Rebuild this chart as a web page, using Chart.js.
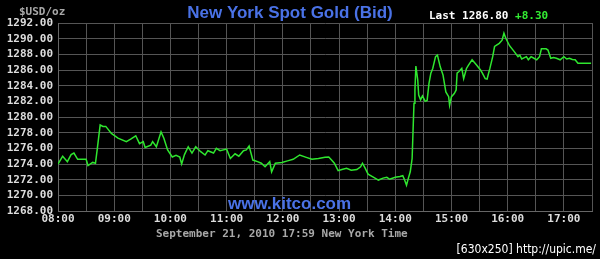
<!DOCTYPE html>
<html>
<head>
    <title>New York Spot Gold</title>
    <script src="https://cdn.jsdelivr.net/npm/chart.js"></script>
    <style>
        html, body { margin: 0; padding: 0; background: #000; }
        #box { width: 600px; height: 259px; position: relative; }
    </style>
</head>
<body>
    <div id="box">
        <canvas id="goldChart"></canvas>
    </div>
    <script>
        // minutes after 08:00 New York time
        const minutes = [0,5,10,14,17,21,30,32,37,40,42,45,48,51,57,64,73,78,83,87,91,93,99,101,105,110,113,117,122,126,130,132,135,139,143,147,152,157,160,166,169,173,180,184,189,193,198,201,204,208,213,217,221,226,228,232,239,245,251,258,265,271,278,285,289,292,295,299,303,308,313,319,323,325,328,331,337,342,347,351,354,360,365,368,370,372,374,376,378,379,380,381,382,384,385,387,389,392,394,396,398,400,403,405,408,411,414,417,418,420,423,425,426,428,431,433,436,438,442,447,451,453,456,458,461,464,466,471,474,476,478,482,487,491,493,495,500,502,505,508,511,514,516,521,523,526,529,532,536,540,543,546,549,552,555,569];
        // bid price, $USD/oz
        const prices = [1274.0,1275.0,1274.3,1275.2,1275.4,1274.6,1274.6,1273.8,1274.2,1274.1,1276.0,1279.0,1278.8,1278.8,1277.9,1277.3,1276.85,1277.2,1277.6,1276.6,1276.85,1276.1,1276.4,1276.85,1276.2,1278.1,1277.3,1275.8,1274.9,1275.1,1274.9,1274.0,1275.2,1276.2,1275.4,1276.2,1275.6,1275.15,1275.7,1275.4,1276.0,1275.7,1275.9,1274.7,1275.3,1275.0,1275.7,1275.8,1276.3,1274.5,1274.3,1274.1,1273.65,1274.3,1273.0,1274.1,1274.2,1274.4,1274.6,1275.15,1274.85,1274.6,1274.7,1274.85,1274.9,1274.5,1274.1,1273.15,1273.3,1273.45,1273.2,1273.3,1273.65,1274.1,1273.45,1272.7,1272.3,1271.95,1272.2,1272.3,1272.05,1272.3,1272.4,1272.5,1271.95,1271.3,1272.2,1273.0,1274.7,1278.3,1281.75,1283.45,1286.5,1284.7,1282.8,1282.2,1282.7,1282.0,1282.1,1284.3,1285.6,1286.2,1287.7,1287.9,1286.4,1285.35,1283.2,1282.6,1281.5,1282.6,1283.0,1283.45,1285.6,1285.8,1286.2,1284.9,1286.2,1286.6,1287.3,1286.6,1286.0,1285.6,1284.9,1284.85,1286.2,1287.7,1289.0,1289.4,1289.8,1290.7,1290.05,1289.1,1288.35,1287.7,1287.9,1287.4,1287.7,1287.3,1287.7,1287.5,1287.3,1287.7,1288.7,1288.7,1288.55,1287.5,1287.6,1287.5,1287.3,1287.7,1287.4,1287.5,1287.35,1287.3,1286.85,1286.85];
        const hourLabels = ['08:00','09:00','10:00','11:00','12:00','13:00','14:00','15:00','16:00','17:00'];
        const priceMin = 1268, priceMax = 1292, priceStep = 2;
        const lastPrice = '1286.80', change = '+8.30';

        const monoFont = 'bold 11px "DejaVu Sans Mono", monospace';

        // title, header and footer texts
        const textPlugin = {
            id: 'kitcoTexts',
            afterDraw(chart) {
                const ctx = chart.ctx;
                ctx.save();
                ctx.textBaseline = 'alphabetic';

                ctx.font = 'bold 11px "DejaVu Sans Mono", monospace';
                ctx.fillStyle = '#a8a8a8';
                ctx.textAlign = 'left';
                ctx.fillText('$USD/oz', 19, 15);

                ctx.font = 'bold 17px "Liberation Sans", Arial, sans-serif';
                ctx.fillStyle = '#4a72e6';
                ctx.textAlign = 'center';
                ctx.fillText('New York Spot Gold (Bid)', 290, 18);

                ctx.font = monoFont;
                ctx.textAlign = 'left';
                ctx.fillStyle = '#ffffff';
                const lastText = 'Last ' + lastPrice + ' ';
                ctx.fillText(lastText, 429, 19);
                ctx.fillStyle = '#33ee33';
                ctx.fillText(change, 429 + ctx.measureText(lastText).width, 19);

                ctx.font = 'bold 17px "Liberation Sans", Arial, sans-serif';
                ctx.fillStyle = '#4a72e6';
                ctx.textAlign = 'left';
                ctx.fillText('www.kitco.com', 228, 209);

                ctx.font = monoFont;
                ctx.fillStyle = '#a8a8a8';
                ctx.fillText('September 21, 2010 17:59 New York Time', 156, 237);

                ctx.font = '12px "DejaVu Sans Condensed", sans-serif';
                ctx.fillStyle = '#ffffff';
                ctx.textAlign = 'right';
                ctx.fillText('[630x250] http://upic.me/', 596, 253);
                ctx.restore();
            }
        };

        const ctx = document.getElementById('goldChart').getContext('2d');
        new Chart(ctx, {
            type: 'line',
            data: {
                datasets: [{
                    label: 'Bid',
                    data: minutes.map((m, i) => ({ x: m, y: prices[i] })),
                    borderColor: '#2fe62f',
                    borderWidth: 1.5,
                    pointRadius: 0,
                    tension: 0,
                    fill: false
                }]
            },
            options: {
                responsive: true,
                maintainAspectRatio: false,
                animation: false,
                layout: { padding: { top: 23, right: 8, left: 0, bottom: 0 } },
                plugins: {
                    legend: { display: false },
                    tooltip: { enabled: false }
                },
                scales: {
                    x: {
                        type: 'linear',
                        min: 0,
                        max: 570,
                        afterBuildTicks: scale => {
                            const t = [];
                            for (let v = 0; v <= 570; v += 30) t.push({ value: v });
                            scale.ticks = t;
                        },
                        afterFit: scale => { scale.height = 48; },
                        ticks: {
                            color: '#dddddd',
                            font: { family: '"DejaVu Sans Mono", monospace', size: 11, weight: 'bold' },
                            maxRotation: 0,
                            autoSkip: false,
                            padding: 2,
                            callback: v => (v % 60 === 0 && v / 60 < hourLabels.length) ? hourLabels[v / 60] : ''
                        },
                        grid: { color: '#555555', lineWidth: 1, drawTicks: false },
                        border: { color: '#666666' }
                    },
                    y: {
                        min: priceMin,
                        max: priceMax,
                        afterFit: scale => { scale.width = 58; },
                        ticks: {
                            stepSize: priceStep,
                            autoSkip: false,
                            color: '#dddddd',
                            font: { family: '"DejaVu Sans Mono", monospace', size: 11, weight: 'bold' },
                            padding: 5,
                            callback: v => v.toFixed(2)
                        },
                        grid: { color: '#555555', lineWidth: 1, drawTicks: false },
                        border: { color: '#666666' }
                    }
                }
            },
            plugins: [textPlugin]
        });
    </script>
</body>
</html>
